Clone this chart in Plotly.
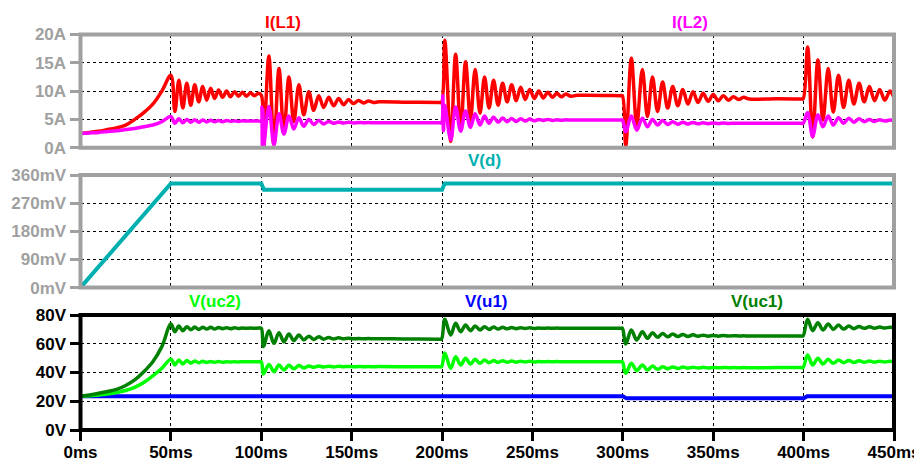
import plotly.graph_objects as go

# ---------------- time grids (ms) ----------------
T_RAMP = [0, 5, 10, 15, 20, 25, 30, 35, 40, 45, 50]
T_EV50 = [52.2, 54.4, 56.6, 58.8, 61.0, 63.2, 65.4, 67.6, 69.8, 72.0, 74.2, 76.4,
          78.6, 80.8, 83.0, 85.2, 87.4, 89.6, 91.8, 94.0, 96.2, 98.4, 100.0]
T_EV100 = [101.2, 104.2, 107.0, 109.8, 112.5, 115.3, 118.0, 120.8, 123.5, 126.3,
           129.0, 131.8, 134.5, 137.3, 140.0, 142.8, 145.5, 148.3, 151.0, 153.8,
           156.5, 159.3, 162.0, 165.0, 180.0, 198.5, 199.7]
T_EV200 = [201.5, 204.8, 207.5, 210.3, 213.0, 215.7, 218.3, 221.0, 223.5, 226.0,
           228.5, 231.0, 233.5, 236.0, 238.5, 241.0, 243.5, 246.0, 248.5, 251.0,
           253.5, 256.0, 258.5, 261.0, 263.5, 266.0, 268.5, 271.0, 275.0, 298.5, 299.7]
T_EV300 = [301.6, 304.7, 307.7, 310.8, 313.6, 316.4, 319.2, 322.0, 324.8, 327.6,
           330.4, 333.2, 336.0, 338.8, 341.6, 344.4, 347.2, 350.0, 352.8, 355.6,
           358.4, 361.2, 364.0, 366.8, 370.0, 385.0, 398.5, 399.7]
T_EV400 = [402.2, 405.0, 407.9, 410.7, 413.6, 416.4, 419.3, 422.1, 425.0, 427.8,
           430.7, 433.5, 436.4, 439.2, 442.1, 444.9, 447.8, 450.0]

# ---------------- I(L1) [A] ----------------
IL1_RAMP = [2.5, 2.7, 2.9, 3.2, 3.5, 4.0, 5.0, 6.2, 7.7, 10.0, 12.8]
IL1_EV50 = [6.4, 11.9, 7.0, 11.4, 7.5, 11.1, 8.1, 10.8, 8.4, 10.5, 8.7, 10.2,
            8.9, 10.0, 9.0, 9.9, 9.1, 9.8, 9.1, 9.7, 9.2, 9.6, 9.3]
IL1_EV100 = [0.0, 16.2, 0.5, 14.0, 2.6, 12.5, 4.6, 11.1, 5.8, 9.9, 6.6, 9.2, 7.1,
             8.9, 7.4, 8.7, 7.6, 8.5, 7.8, 8.35, 7.9, 8.25, 8.0, 8.1, 8.05, 8.0, 8.0]
IL1_EV200 = [19.0, 1.1, 16.5, 3.1, 15.2, 4.9, 13.8, 6.1, 12.5, 7.0, 11.9, 7.5,
             11.4, 8.1, 11.1, 8.3, 10.7, 8.5, 10.3, 8.7, 10.0, 8.8, 9.8, 8.9,
             9.6, 9.0, 9.5, 9.1, 9.25, 9.2, 9.2]
IL1_EV300 = [0.3, 15.8, 4.0, 13.8, 5.5, 12.5, 6.4, 11.6, 7.0, 10.8, 7.4, 10.3,
             7.7, 9.9, 8.0, 9.6, 8.2, 9.4, 8.3, 9.2, 8.4, 9.0, 8.5, 8.9, 8.6,
             8.65, 8.6, 8.6]
IL1_EV400 = [17.8, 1.9, 15.5, 4.9, 14.0, 6.3, 12.8, 7.1, 11.9, 7.7, 11.4, 8.1,
             10.8, 8.3, 10.3, 8.4, 10.0, 8.8]

# ---------------- I(L2) [A] ----------------
IL2_RAMP = [2.5, 2.6, 2.7, 2.85, 3.0, 3.2, 3.4, 3.7, 4.0, 4.6, 5.5]
IL2_EV50 = [4.3, 5.1, 4.4, 5.0, 4.5, 4.95, 4.5, 4.9, 4.55, 4.85, 4.6, 4.8, 4.6,
            4.8, 4.65, 4.75, 4.65, 4.75, 4.7, 4.72, 4.7, 4.72, 4.7]
IL2_EV100 = [0.0, 7.3, 0.5, 6.0, 2.4, 5.6, 3.3, 5.3, 3.8, 5.0, 4.1, 4.8, 4.2,
             4.65, 4.3, 4.55, 4.35, 4.5, 4.38, 4.47, 4.4, 4.45, 4.4, 4.42, 4.4, 4.4, 4.4]
IL2_EV200 = [7.5, 1.4, 7.2, 2.9, 6.5, 3.6, 6.0, 4.0, 5.6, 4.3, 5.4, 4.5, 5.25,
             4.6, 5.15, 4.65, 5.1, 4.7, 5.05, 4.75, 5.0, 4.8, 5.0, 4.8, 4.95,
             4.85, 4.92, 4.88, 4.9, 4.9, 4.9]
IL2_EV300 = [2.8, 5.6, 3.1, 5.2, 3.7, 5.0, 4.0, 4.8, 4.1, 4.6, 4.15, 4.5, 4.2,
             4.45, 4.22, 4.4, 4.25, 4.38, 4.27, 4.35, 4.28, 4.33, 4.3, 4.32, 4.3,
             4.3, 4.3, 4.3]
IL2_EV400 = [6.2, 2.0, 5.8, 3.7, 5.6, 4.0, 5.3, 4.3, 5.2, 4.5, 5.1, 4.6, 5.0,
             4.65, 4.95, 4.7, 4.9, 4.8]
IL2_BURST_T = [100.3, 100.6, 100.9, 200.4, 200.8]
IL2_BURST_V = [7.2, 0.3, 6.8, 9.2, 3.0]

# ---------------- V(d) [mV] ----------------
VD_T = [0, 50, 100, 101.5, 200, 201.5, 450]
VD_V = [0, 333, 333, 313, 313, 333, 333]

# ---------------- V(uc1) [V] ----------------
VUC1_RAMP = [23.5, 24.3, 25.5, 26.8, 28.3, 31.0, 34.8, 40.5, 47.5, 58.0, 73.7]
VUC1_EV50 = [68.4, 72.3, 69.1, 71.9, 69.8, 71.6, 70.0, 71.5, 70.2, 71.4, 70.3,
             71.3, 70.4, 71.2, 70.5, 71.1, 70.6, 71.0, 70.7, 70.9, 70.8, 70.9, 70.8]
VUC1_EV100 = [58.0, 69.0, 60.3, 67.7, 61.4, 66.8, 62.2, 66.1, 62.7, 65.3, 63.0,
              64.8, 63.2, 64.4, 63.3, 64.1, 63.4, 63.9, 63.4, 63.7, 63.4, 63.6,
              63.4, 63.5, 63.3, 63.2, 63.2]
VUC1_EV200 = [77.0, 66.1, 74.2, 68.4, 73.0, 69.1, 72.3, 69.6, 71.9, 70.0, 71.6,
              70.2, 71.4, 70.4, 71.3, 70.5, 71.2, 70.6, 71.1, 70.6, 71.0, 70.7,
              70.95, 70.7, 70.9, 70.75, 70.85, 70.8, 70.8, 70.8, 70.8]
VUC1_EV300 = [59.8, 69.6, 62.6, 68.4, 63.8, 67.7, 64.5, 67.2, 64.8, 66.8, 65.0,
              66.5, 65.1, 66.2, 65.2, 66.0, 65.25, 65.8, 65.3, 65.7, 65.35, 65.6,
              65.4, 65.5, 65.4, 65.45, 65.4, 65.4]
VUC1_EV400 = [77.0, 69.1, 74.6, 69.6, 73.7, 70.0, 73.0, 70.2, 72.3, 70.5, 72.0,
              70.7, 71.8, 70.8, 71.6, 70.9, 71.5, 71.2]

# ---------------- V(uc2) [V] ----------------
VUC2_RAMP = [23.5, 23.9, 24.3, 25.0, 26.0, 27.5, 29.7, 33.0, 37.6, 42.9, 49.2]
VUC2_EV50 = [45.3, 48.7, 46.0, 48.3, 46.5, 48.0, 46.8, 47.8, 47.0, 47.7, 47.1,
             47.6, 47.2, 47.5, 47.3, 47.5, 47.3, 47.5, 47.4, 47.45, 47.4, 47.45, 47.4]
VUC2_EV100 = [39.0, 45.5, 40.6, 45.2, 41.8, 45.0, 42.6, 44.8, 43.2, 44.6, 43.6,
              44.5, 43.8, 44.4, 43.9, 44.3, 44.0, 44.2, 44.0, 44.15, 44.05, 44.1,
              44.05, 44.1, 44.0, 44.0, 44.0]
VUC2_EV200 = [53.5, 42.9, 51.0, 45.2, 49.9, 45.9, 49.2, 46.4, 48.7, 46.8, 48.4,
              47.0, 48.2, 47.1, 48.0, 47.2, 47.9, 47.3, 47.8, 47.35, 47.7, 47.4,
              47.65, 47.45, 47.6, 47.5, 47.55, 47.5, 47.5, 47.5, 47.5]
VUC2_EV300 = [39.4, 46.4, 41.3, 45.2, 41.7, 44.5, 42.2, 44.0, 42.6, 43.9, 42.8,
              43.8, 43.0, 43.7, 43.1, 43.6, 43.2, 43.55, 43.25, 43.5, 43.3, 43.45,
              43.3, 43.4, 43.35, 43.4, 43.4, 43.4]
VUC2_EV400 = [52.2, 45.2, 49.9, 45.9, 49.2, 46.4, 48.7, 46.8, 48.4, 47.0, 48.2,
              47.1, 48.0, 47.2, 47.9, 47.3, 47.8, 47.5]

# ---------------- V(u1) [V] ----------------
VU1_T = [0, 300, 302, 400, 402, 450]
VU1_V = [23.5, 23.5, 22.0, 22.0, 23.5, 23.5]

# ---------------- axis ticks ----------------
X_TICKS = [0, 50, 100, 150, 200, 250, 300, 350, 400, 450]
X_LABELS = ["0ms", "50ms", "100ms", "150ms", "200ms", "250ms", "300ms", "350ms", "400ms", "450ms"]
Y1_TICKS = [0, 5, 10, 15, 20]
Y1_LABELS = ["0A", "5A", "10A", "15A", "20A"]
Y2_TICKS = [0, 90, 180, 270, 360]
Y2_LABELS = ["0mV", "90mV", "180mV", "270mV", "360mV"]
Y3_TICKS = [0, 20, 40, 60, 80]
Y3_LABELS = ["0V", "20V", "40V", "60V", "80V"]

T_ALL = T_RAMP + T_EV50 + T_EV100 + T_EV200 + T_EV300 + T_EV400


def join(*parts):
    out = []
    for p in parts:
        out += p
    return out


il1 = join(IL1_RAMP, IL1_EV50, IL1_EV100, IL1_EV200, IL1_EV300, IL1_EV400)
il2_pairs = sorted(zip(T_ALL + IL2_BURST_T,
                       join(IL2_RAMP, IL2_EV50, IL2_EV100, IL2_EV200, IL2_EV300, IL2_EV400) + IL2_BURST_V))
il2_t = [p[0] for p in il2_pairs]
il2_v = [p[1] for p in il2_pairs]
vuc1 = join(VUC1_RAMP, VUC1_EV50, VUC1_EV100, VUC1_EV200, VUC1_EV300, VUC1_EV400)
vuc2 = join(VUC2_RAMP, VUC2_EV50, VUC2_EV100, VUC2_EV200, VUC2_EV300, VUC2_EV400)

# The page body has an 8px margin: the figure is sized and positioned so that
# window pixel coordinates match the reference.
OFF = 8
W, H = 922 - OFF, 461 - OFF


def px(x):
    return (x - OFF) / W


def py(y):
    return 1 - (y - OFF) / H


GRAY = "#a0a0a0"
FONT = "Liberation Sans, Arial, sans-serif"
XD = [px(80.5), px(894)]
YD1 = [py(147.7), py(34.5)]
YD2 = [py(287.6), py(175)]
YD3 = [py(430), py(315)]

LW = 3.5
SPL = dict(shape="spline", smoothing=1)
fig = go.Figure()
fig.add_trace(go.Scatter(x=T_ALL, y=il1, mode="lines", line=dict(color="#ff0000", width=LW, **SPL),
                         xaxis="x", yaxis="y", showlegend=False))
fig.add_trace(go.Scatter(x=il2_t, y=il2_v, mode="lines", line=dict(color="#ff00ff", width=LW, **SPL),
                         xaxis="x", yaxis="y", showlegend=False))
fig.add_trace(go.Scatter(x=VD_T, y=VD_V, mode="lines", line=dict(color="#00b0b0", width=4),
                         xaxis="x2", yaxis="y2", showlegend=False))
fig.add_trace(go.Scatter(x=VU1_T, y=VU1_V, mode="lines", line=dict(color="#0000ff", width=4),
                         xaxis="x3", yaxis="y3", showlegend=False))
fig.add_trace(go.Scatter(x=T_ALL, y=vuc2, mode="lines", line=dict(color="#00ff00", width=LW, **SPL),
                         xaxis="x3", yaxis="y3", showlegend=False))
fig.add_trace(go.Scatter(x=T_ALL, y=vuc1, mode="lines", line=dict(color="#008000", width=LW, **SPL),
                         xaxis="x3", yaxis="y3", showlegend=False))

grid = dict(showgrid=True, gridcolor="black", gridwidth=1, griddash="3px,3px", zeroline=False, showline=False)


def xax(anchor, labels):
    d = dict(domain=XD, range=[0, 450], anchor=anchor, tickmode="array", tickvals=X_TICKS,
             automargin=False, **grid)
    if labels:
        d.update(ticktext=X_LABELS, showticklabels=True, ticks="outside", ticklen=10, tickwidth=3,
                 ticklabelstandoff=-3,
                 tickcolor="black", tickfont=dict(family=FONT, size=17, color="black", weight="bold"))
    else:
        d.update(showticklabels=False, ticks="")
    return d


def yax(anchor, dom, rng, vals, labels, col):
    return dict(domain=dom, range=rng, anchor=anchor, tickmode="array", tickvals=vals, ticktext=labels,
                ticks="outside", ticklen=10, tickwidth=3, tickcolor=col, automargin=False,
                tickfont=dict(family=FONT, size=17, color=col, weight="bold"), **grid)


shapes = []
for xr, yr, col in [("x domain", "y domain", GRAY), ("x2 domain", "y2 domain", GRAY), ("x3 domain", "y3 domain", "black")]:
    shapes.append(dict(type="rect", xref=xr, yref=yr, x0=0, x1=1, y0=0, y1=1,
                       line=dict(color=col, width=4), layer="above"))

ann = []
for text, tx, ty, col in [("I(L1)", 283, 23, "#ff0000"), ("I(L2)", 690, 23, "#ff00ff"),
                          ("V(d)", 484, 161, "#00b0b0"), ("V(uc2)", 215, 301, "#00ff00"),
                          ("V(u1)", 486, 301, "#0000ff"), ("V(uc1)", 757, 301, "#008000")]:
    ann.append(dict(text=text, x=px(tx), y=py(ty), xref="paper", yref="paper", xanchor="center",
                    yanchor="middle", showarrow=False,
                    font=dict(family=FONT, size=17, color=col, weight="bold")))

fig.update_layout(
    template="none",
    width=W, height=H,
    margin=dict(l=0, r=0, t=0, b=0),
    paper_bgcolor="white", plot_bgcolor="white",
    font=dict(family=FONT),
    xaxis=xax("y", False), xaxis2=xax("y2", False), xaxis3=xax("y3", True),
    yaxis=yax("x", YD1, [0, 20], Y1_TICKS, Y1_LABELS, GRAY),
    yaxis2=yax("x2", YD2, [0, 360], Y2_TICKS, Y2_LABELS, GRAY),
    yaxis3=yax("x3", YD3, [0, 80], Y3_TICKS, Y3_LABELS, "black"),
    shapes=shapes, annotations=ann, showlegend=False,
)

fig.write_html("out.html", config={"displayModeBar": False})
